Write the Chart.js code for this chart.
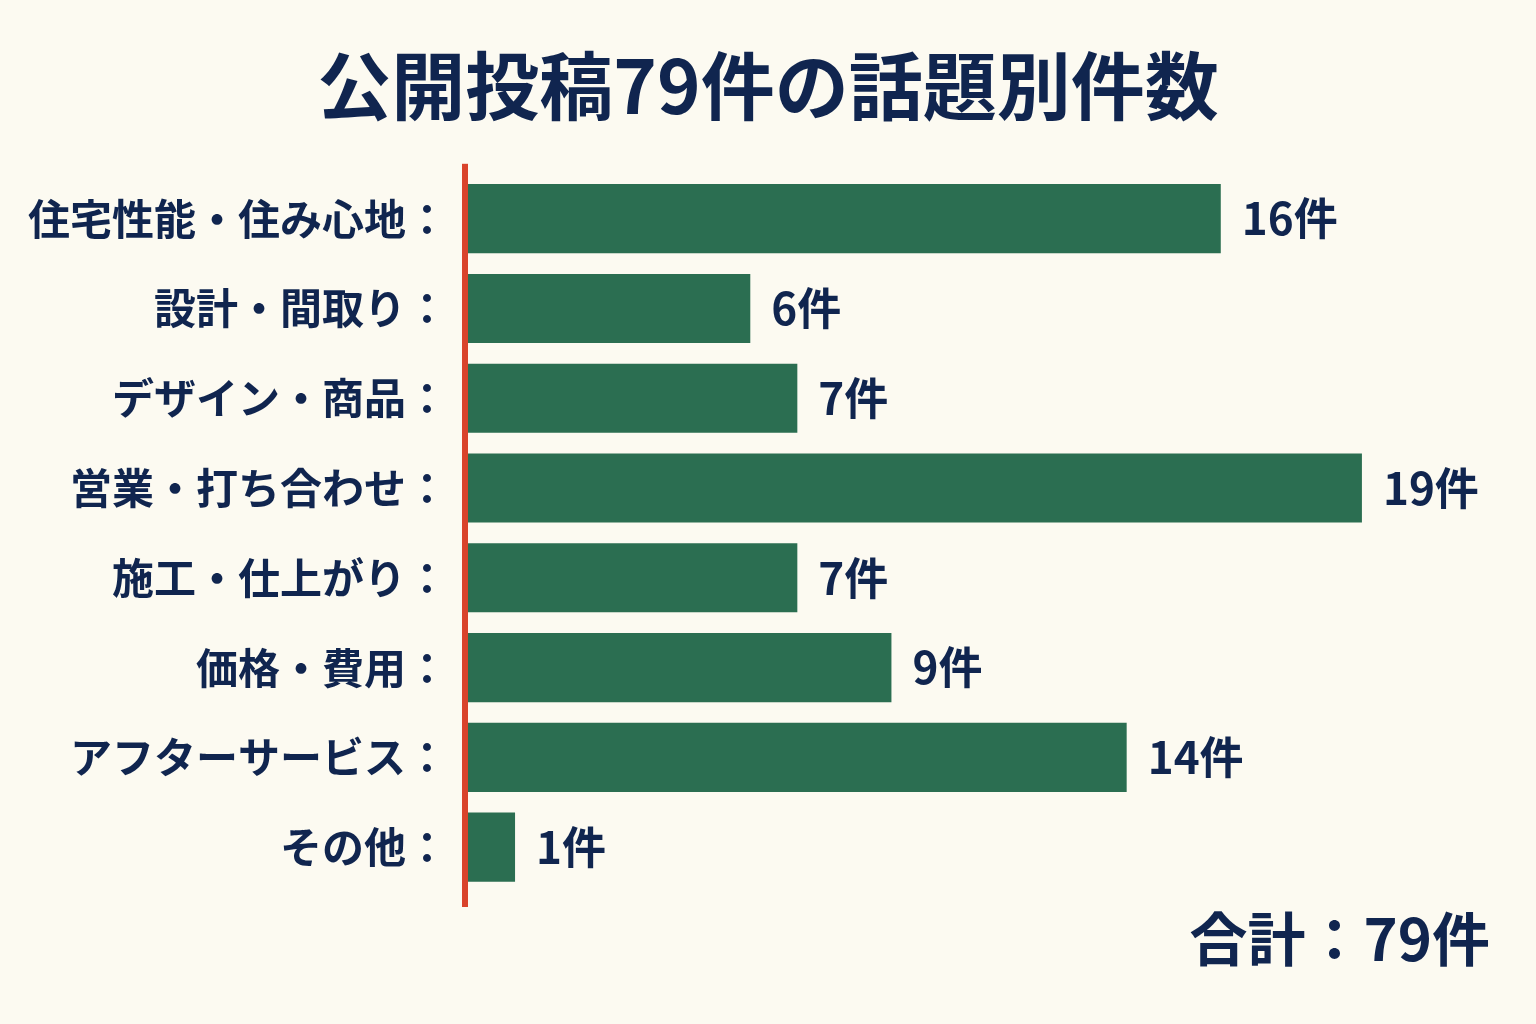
<!DOCTYPE html>
<html lang="ja">
<head>
<meta charset="utf-8">
<title>公開投稿79件の話題別件数</title>
<script src="https://cdn.jsdelivr.net/npm/chart.js@4"></script>
<style>
  html, body { margin: 0; padding: 0; background: #fcfaf1; }
  canvas { display: block; }
</style>
</head>
<body>
<canvas id="myChart" width="1536" height="1024"></canvas>
<script>
// data
const topics = ['住宅性能・住み心地：', '設計・間取り：', 'デザイン・商品：', '営業・打ち合わせ：',
                '施工・仕上がり：', '価格・費用：', 'アフターサービス：', 'その他：']
const counts = [16, 6, 7, 19, 7, 9, 14, 1]
const unit = '件'
const titleText = '公開投稿79件の話題別件数'
const totalText = '合計：79件'

const NAVY = '#10254f'
const GREEN = '#2b6e51'
const RED = '#d9432b'
const FONT = '"Noto Sans CJK JP", "Noto Sans", sans-serif'

// cream background
const bgPlugin = {
    id: 'bg',
    beforeDraw(chart) {
        const ctx = chart.ctx
        ctx.save()
        ctx.fillStyle = '#fcfaf1'
        ctx.fillRect(0, 0, chart.width, chart.height)
        ctx.restore()
    }
}

// red axis line, value labels next to bars, total in the corner
const labelPlugin = {
    id: 'valueLabels',
    afterDatasetsDraw(chart) {
        const ctx = chart.ctx
        const area = chart.chartArea
        ctx.save()
        ctx.fillStyle = RED
        ctx.fillRect(area.left - 6, area.top - 10, 6, area.bottom - area.top + 25)

        ctx.fillStyle = NAVY
        ctx.font = 'bold 44px ' + FONT
        ctx.textAlign = 'left'
        ctx.textBaseline = 'middle'
        chart.getDatasetMeta(0).data.forEach((bar, i) => {
            ctx.fillText(counts[i] + unit, bar.x + 21, bar.y)
        })

        ctx.font = 'bold 58px ' + FONT
        ctx.textAlign = 'right'
        ctx.fillText(totalText, chart.width - 46, area.bottom + 47)
        ctx.restore()
    }
}

const ctx = document.getElementById('myChart')
const myChart = new Chart(ctx, {
    type: 'bar',
    data: {
        labels: topics,
        datasets: [{
            data: counts,
            backgroundColor: GREEN,
            borderWidth: 0,
            barPercentage: 0.77,
            categoryPercentage: 1
        }]
    },
    options: {
        indexAxis: 'y',
        responsive: false,
        animation: false,
        devicePixelRatio: 1,
        layout: { padding: { left: 0, right: 0, top: 0, bottom: 132 } },
        scales: {
            x: {
                display: false,
                min: 0,
                max: 22.7
            },
            y: {
                grid: { display: false },
                border: { display: false },
                ticks: {
                    color: NAVY,
                    padding: 12,
                    font: { family: FONT, size: 42, weight: 'bold' }
                },
                afterFit(scale) {
                    scale.width = 468
                }
            }
        },
        plugins: {
            legend: { display: false },
            tooltip: { enabled: false },
            title: {
                display: true,
                text: titleText,
                color: NAVY,
                font: { family: FONT, size: 74, weight: 'bold', lineHeight: 1.2 },
                padding: { top: 41, bottom: 44 }
            }
        }
    },
    plugins: [bgPlugin, labelPlugin]
})
</script>
</body>
</html>
